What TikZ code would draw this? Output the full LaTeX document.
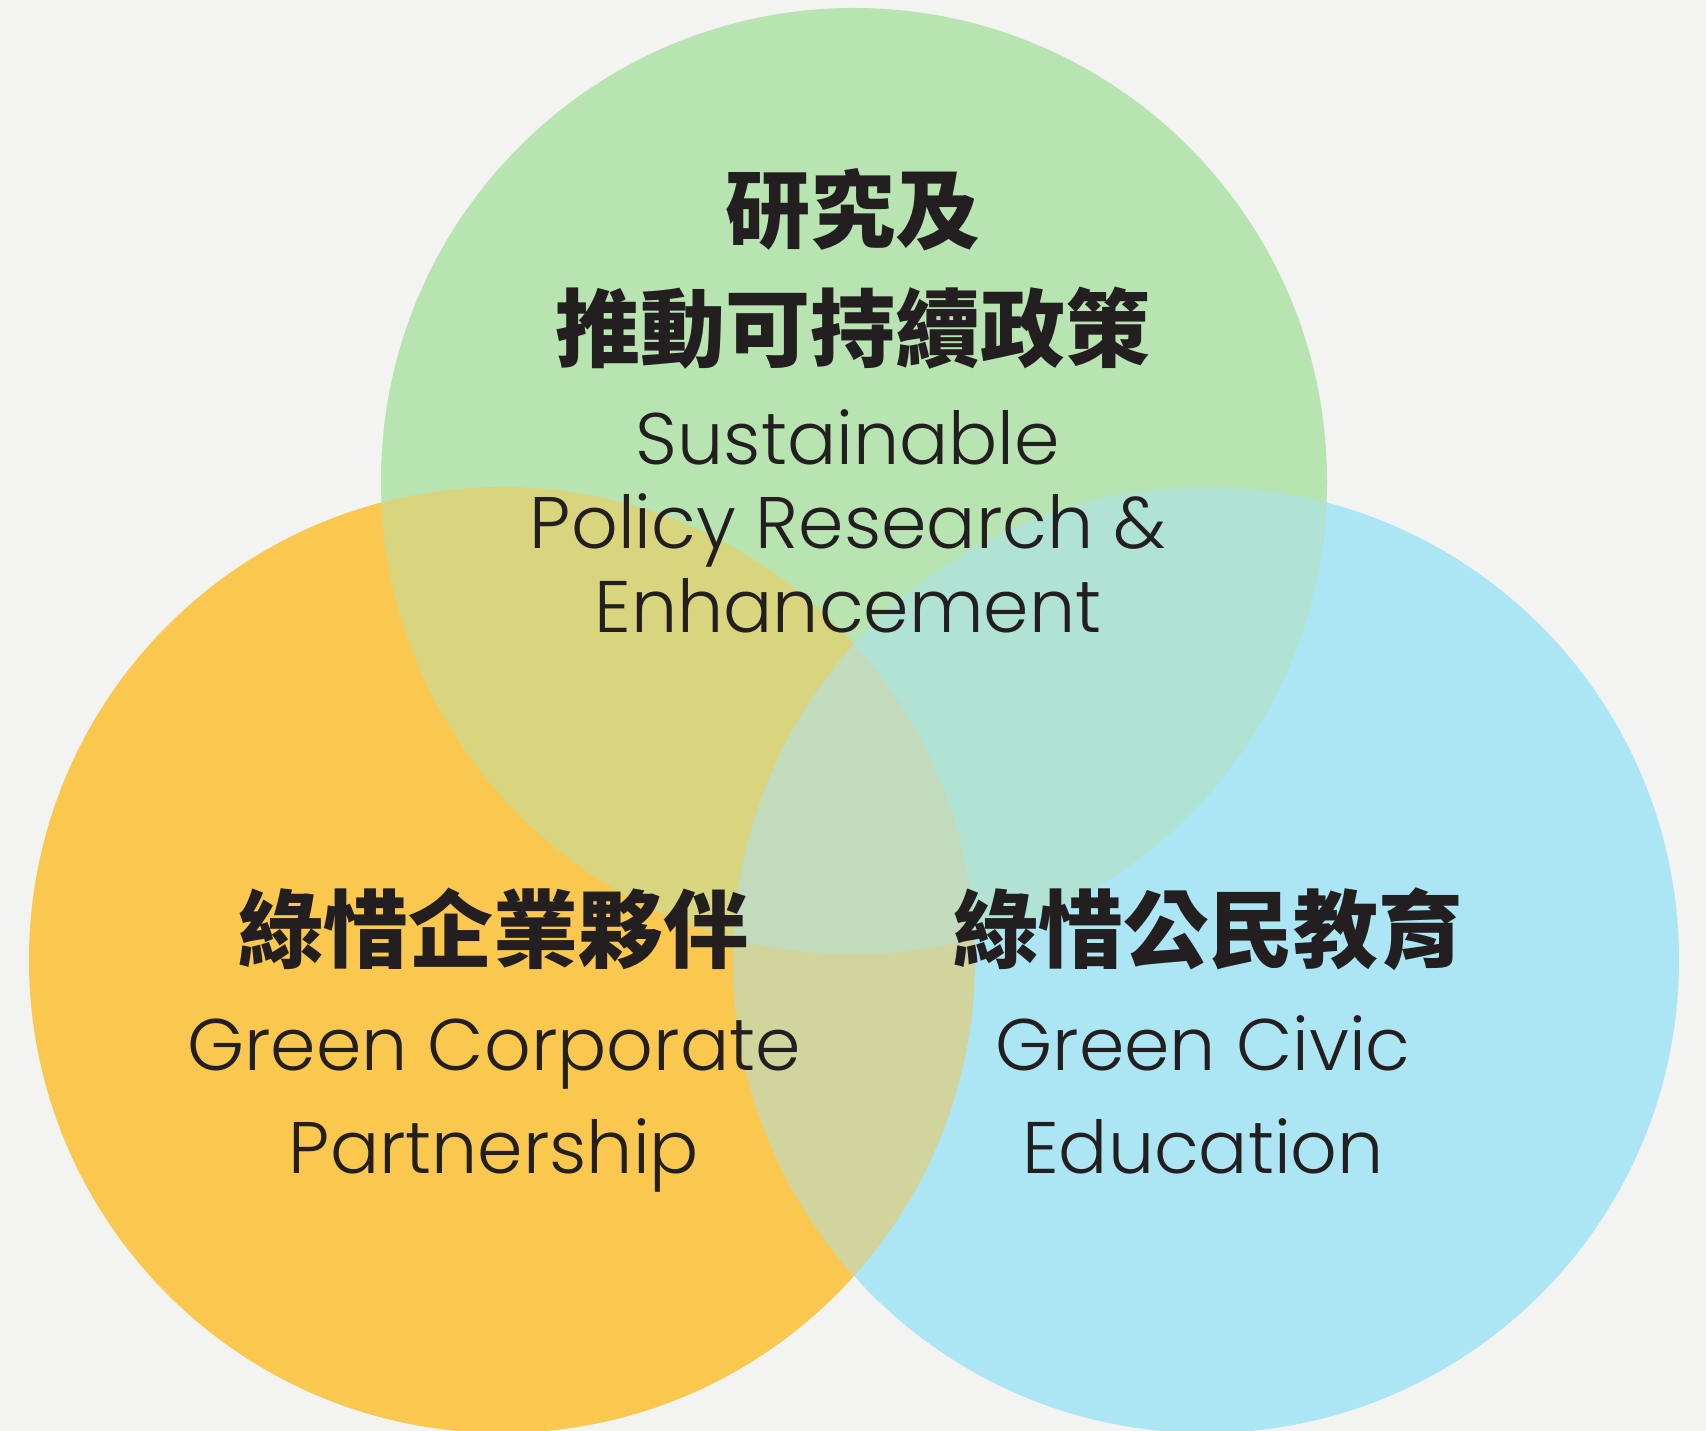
\documentclass[tikz,border=0pt]{standalone}
\usepackage{fontspec}
\setmainfont{Poppins Light}
\newfontfamily\cjk{Noto Sans CJK TC}
\usetikzlibrary{positioning}
\definecolor{paper}{HTML}{F3F3F2}
\definecolor{ink}{HTML}{231F20}
\definecolor{policyc}{HTML}{B8E4B1}
\definecolor{corpc}{HTML}{FAC74F}
\definecolor{civicc}{HTML}{ACE5F3}
\definecolor{corppolicy}{HTML}{D9D57F}
\definecolor{policycivic}{HTML}{B0E3D4}
\definecolor{corpcivic}{HTML}{D2D49D}
\definecolor{allthree}{HTML}{C1DBBC}
\tikzset{cjktext/.style={text=ink,font=\cjk\bfseries\fontsize{85}{119}\selectfont,inner sep=0pt,align=center}}
\tikzset{entext/.style={text=ink,font=\fontsize{73}{84}\selectfont,inner sep=0pt,align=center}}
\tikzset{enwide/.style={entext,font=\fontsize{73}{103}\selectfont}}

\begin{document}
\begin{tikzpicture}[x=1pt,y=1pt]
        \fill[paper] (0,0) rectangle (1706,1431);
        \useasboundingbox (0,0) rectangle (1706,1431);
        \coordinate (policy) at (854,950);
        \coordinate (corp) at (502,471);
        \coordinate (civic) at (1206,471);
        \def\rad{473}
        % the three circles
        \fill[corpc] (corp) circle (\rad);
        \fill[civicc] (civic) circle (\rad);
        \fill[policyc] (policy) circle (\rad);
        % overlaps
        \begin{scope}
            \clip (corp) circle (\rad);
            \fill[corppolicy] (policy) circle (\rad);
            \fill[corpcivic] (civic) circle (\rad);
        \end{scope}
        \begin{scope}
            \clip (policy) circle (\rad);
            \fill[policycivic] (civic) circle (\rad);
            \clip (corp) circle (\rad);
            \fill[allthree] (civic) circle (\rad);
        \end{scope}
        % labels (base = last line)
        \node[cjktext,anchor=base] (policyzh) at (853,1070) {研究及\\推動可持續政策};
        \node[entext,anchor=base] (policyen) at (848,798) {Sustainable\\Policy Research \&\\Enhancement};
        \node[cjktext,anchor=base] (corpzh) at (493,469) {綠惜企業夥伴};
        \node[enwide,anchor=base] (corpen) at (494,257) {Green Corporate\\Partnership};
        \node[cjktext,anchor=base] (civiczh) at (1208,469) {綠惜公民教育};
        \node[enwide,anchor=base] (civicen) at (1203,257) {Green Civic\\Education};
\end{tikzpicture}
\end{document}
